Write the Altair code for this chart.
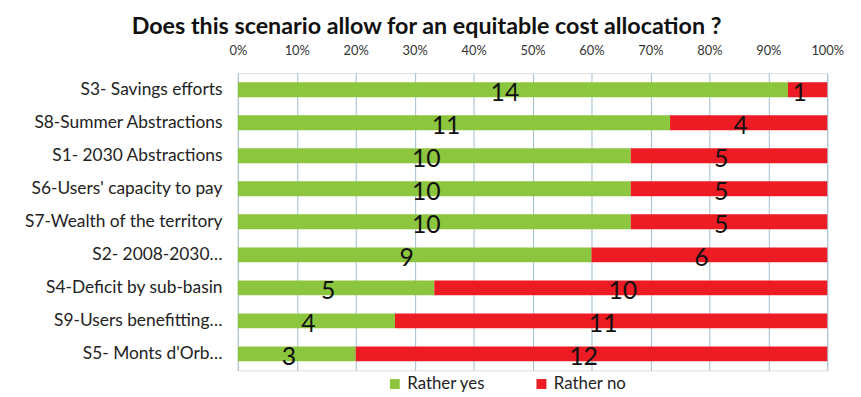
import altair as alt
import pandas as pd

categories = [
    "S3- Savings efforts",
    "S8-Summer Abstractions",
    "S1- 2030 Abstractions",
    "S6-Users' capacity to pay",
    "S7-Wealth of the territory",
    "S2- 2008-2030…",
    "S4-Deficit by sub-basin",
    "S9-Users benefitting…",
    "S5- Monts d'Orb…",
]
rather_yes = [14, 11, 10, 10, 10, 9, 5, 4, 3]
rather_no = [1, 4, 5, 5, 5, 6, 10, 11, 12]
series = ["Rather yes", "Rather no"]
colors = ["#8cc63f", "#ed1c24"]
pct_ticks = [0, 0.1, 0.2, 0.3, 0.4, 0.5, 0.6, 0.7, 0.8, 0.9, 1.0]

rows = []
for i, c in enumerate(categories):
    rows.append({"category": c, "series": series[0], "count": rather_yes[i], "ord": 0})
    rows.append({"category": c, "series": series[1], "count": rather_no[i], "ord": 1})
df = pd.DataFrame(rows)

FONT = "Lato"

base = alt.Chart(df).transform_stack(
    stack="count",
    groupby=["category"],
    as_=["x0", "x1"],
    offset="normalize",
    sort=[alt.SortField("ord", order="ascending")],
).transform_calculate(mid="(datum.x0 + datum.x1) / 2")

y_enc = alt.Y(
    "category:N",
    sort=categories,
    title=None,
    axis=alt.Axis(
        labelFont=FONT,
        labelFontSize=17.5,
        labelColor="#222222",
        labelPadding=16,
        labelLimit=300,
        ticks=False,
        domain=False,
        grid=False,
    ),
)

bars = base.mark_bar(size=15).encode(
    x=alt.X(
        "x0:Q",
        scale=alt.Scale(domain=[0, 1], nice=False),
        title=None,
        axis=alt.Axis(
            orient="top",
            format="%",
            values=pct_ticks,
            labelFont=FONT,
            labelFontSize=13,
            labelColor="#333333",
            labelPadding=16,
            labelFlush=False,
            ticks=False,
            domain=False,
            grid=True,
            gridColor="#9fbdd0",
            gridWidth=1,
        ),
    ),
    x2="x1:Q",
    y=y_enc,
    color=alt.Color(
        "series:N",
        scale=alt.Scale(domain=series, range=colors),
        sort=series,
        legend=alt.Legend(
            title=None,
            orient="none",
            legendX=150,
            legendY=305,
            direction="horizontal",
            symbolType="square",
            symbolSize=100,
            symbolStrokeWidth=0,
            labelFont=FONT,
            labelFontSize=17,
            labelColor="#222222",
            columnPadding=48,
        ),
    ),
    order=alt.Order("ord:Q"),
)

labels = base.mark_text(
    font=FONT, fontSize=25, color="#111111", dx=-8, dy=3
).encode(
    x=alt.X("mid:Q"),
    y=alt.Y("category:N", sort=categories),
    text=alt.Text("count:Q"),
)

chart = (
    alt.layer(bars, labels)
    .properties(
        width=595,
        height=300,
        autosize=alt.AutoSizeParams(type="none"),
        padding={"left": 232, "top": 64, "right": 26, "bottom": 20},
        title=alt.TitleParams(
            "Does this scenario allow for an equitable cost allocation ?",
            font=FONT,
            fontSize=23.5,
            fontWeight="bold",
            color="#111111",
            anchor="middle",
            frame="group",
            dx=-107,
            offset=6,
        ),
    )
    .configure_view(stroke=None)
    .configure(background="white")
)

chart.save("out.html", embed_options={"renderer": "svg", "actions": False})
